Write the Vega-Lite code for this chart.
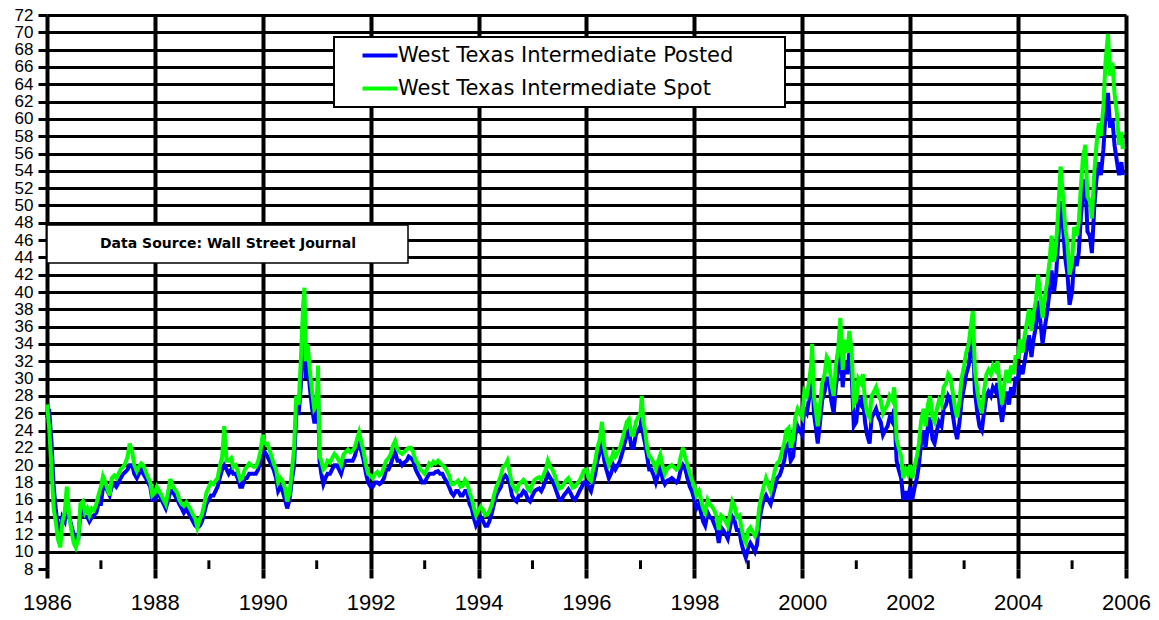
{
"$schema": "https://vega.github.io/schema/vega-lite/v6.json",
"width": 1079, "height": 554,
"autosize": "none",
"padding": {"left": 47, "top": 15, "right": 33, "bottom": 51},
"background": "white",
"config": {"view": {"stroke": null}, "font": "Liberation Sans"},
"datasets": {
"minor": [{"yr":"1987-01-01"},{"yr":"1989-01-01"},{"yr":"1991-01-01"},{"yr":"1993-01-01"},{"yr":"1995-01-01"},{"yr":"1997-01-01"},{"yr":"1999-01-01"},{"yr":"2001-01-01"},{"yr":"2003-01-01"},{"yr":"2005-01-01"}],
"prices": [
{"d":"1986-01-01","Posted":25.5,"Spot":27.0},{"d":"1986-01-15","Posted":26.5,"Spot":24.5},{"d":"1986-02-01","Posted":22.5,"Spot":19.5},{"d":"1986-02-15","Posted":17.5,"Spot":15.0},
{"d":"1986-03-01","Posted":15.0,"Spot":13.5},{"d":"1986-03-15","Posted":13.0,"Spot":11.5},{"d":"1986-04-01","Posted":12.5,"Spot":10.5},{"d":"1986-04-15","Posted":14.0,"Spot":13.5},
{"d":"1986-05-01","Posted":13.5,"Spot":14.5},{"d":"1986-05-15","Posted":15.5,"Spot":17.5},{"d":"1986-06-01","Posted":14.0,"Spot":14.0},{"d":"1986-06-15","Posted":13.0,"Spot":12.5},
{"d":"1986-07-01","Posted":12.0,"Spot":11.0},{"d":"1986-07-15","Posted":11.5,"Spot":10.5},{"d":"1986-08-01","Posted":11.5,"Spot":11.5},{"d":"1986-08-15","Posted":14.5,"Spot":15.5},
{"d":"1986-09-01","Posted":15.0,"Spot":15.8},{"d":"1986-09-15","Posted":14.0,"Spot":14.5},{"d":"1986-10-01","Posted":14.0,"Spot":15.0},{"d":"1986-10-15","Posted":13.5,"Spot":14.2},
{"d":"1986-11-01","Posted":14.0,"Spot":15.0},{"d":"1986-11-15","Posted":14.2,"Spot":14.8},{"d":"1986-12-01","Posted":14.5,"Spot":15.5},{"d":"1986-12-15","Posted":15.5,"Spot":16.5},
{"d":"1987-01-01","Posted":15.5,"Spot":17.5},{"d":"1987-01-15","Posted":17.5,"Spot":18.7},{"d":"1987-02-01","Posted":17.5,"Spot":18.0},{"d":"1987-02-15","Posted":17.0,"Spot":17.2},
{"d":"1987-03-01","Posted":16.5,"Spot":16.5},{"d":"1987-03-15","Posted":17.5,"Spot":18.5},{"d":"1987-04-01","Posted":17.8,"Spot":18.8},{"d":"1987-04-15","Posted":17.5,"Spot":18.5},
{"d":"1987-05-01","Posted":18.0,"Spot":19.0},{"d":"1987-05-15","Posted":18.5,"Spot":19.5},{"d":"1987-06-01","Posted":19.0,"Spot":19.8},{"d":"1987-06-15","Posted":19.2,"Spot":20.2},
{"d":"1987-07-01","Posted":19.5,"Spot":21.0},{"d":"1987-07-15","Posted":20.0,"Spot":22.5},{"d":"1987-08-01","Posted":20.0,"Spot":21.5},{"d":"1987-08-15","Posted":19.0,"Spot":20.0},
{"d":"1987-09-01","Posted":18.5,"Spot":19.3},{"d":"1987-09-15","Posted":19.0,"Spot":19.8},{"d":"1987-10-01","Posted":19.5,"Spot":20.2},{"d":"1987-10-15","Posted":19.0,"Spot":20.0},
{"d":"1987-11-01","Posted":18.5,"Spot":19.2},{"d":"1987-11-15","Posted":18.0,"Spot":18.6},{"d":"1987-12-01","Posted":17.5,"Spot":18.0},{"d":"1987-12-15","Posted":16.0,"Spot":16.5},
{"d":"1988-01-01","Posted":16.0,"Spot":16.8},{"d":"1988-01-15","Posted":16.5,"Spot":17.5},{"d":"1988-02-01","Posted":16.5,"Spot":17.0},{"d":"1988-02-15","Posted":16.0,"Spot":16.5},
{"d":"1988-03-01","Posted":15.5,"Spot":16.0},{"d":"1988-03-15","Posted":15.0,"Spot":15.5},{"d":"1988-04-01","Posted":16.0,"Spot":17.0},{"d":"1988-04-15","Posted":17.0,"Spot":18.4},
{"d":"1988-05-01","Posted":17.0,"Spot":17.6},{"d":"1988-05-15","Posted":16.5,"Spot":17.2},{"d":"1988-06-01","Posted":16.0,"Spot":16.8},{"d":"1988-06-15","Posted":15.5,"Spot":16.0},
{"d":"1988-07-01","Posted":15.0,"Spot":15.5},{"d":"1988-07-15","Posted":14.5,"Spot":15.3},{"d":"1988-08-01","Posted":15.0,"Spot":15.7},{"d":"1988-08-15","Posted":14.5,"Spot":15.3},
{"d":"1988-09-01","Posted":14.0,"Spot":14.8},{"d":"1988-09-15","Posted":13.5,"Spot":14.3},{"d":"1988-10-01","Posted":13.0,"Spot":13.8},{"d":"1988-10-15","Posted":12.8,"Spot":12.8},
{"d":"1988-11-01","Posted":13.0,"Spot":13.8},{"d":"1988-11-15","Posted":13.5,"Spot":14.3},{"d":"1988-12-01","Posted":14.5,"Spot":15.5},{"d":"1988-12-15","Posted":15.5,"Spot":16.8},
{"d":"1989-01-01","Posted":16.0,"Spot":17.5},{"d":"1989-01-15","Posted":16.5,"Spot":18.0},{"d":"1989-02-01","Posted":16.5,"Spot":17.8},{"d":"1989-02-15","Posted":17.0,"Spot":18.2},
{"d":"1989-03-01","Posted":17.5,"Spot":18.5},{"d":"1989-03-15","Posted":18.5,"Spot":19.8},{"d":"1989-04-01","Posted":19.5,"Spot":21.0},{"d":"1989-04-15","Posted":20.0,"Spot":24.5},
{"d":"1989-05-01","Posted":19.5,"Spot":20.5},{"d":"1989-05-15","Posted":19.0,"Spot":20.5},{"d":"1989-06-01","Posted":19.5,"Spot":20.8},{"d":"1989-06-15","Posted":19.0,"Spot":19.8},
{"d":"1989-07-01","Posted":19.0,"Spot":20.0},{"d":"1989-07-15","Posted":18.5,"Spot":19.3},{"d":"1989-08-01","Posted":17.5,"Spot":18.3},{"d":"1989-08-15","Posted":17.5,"Spot":18.5},
{"d":"1989-09-01","Posted":18.5,"Spot":19.5},{"d":"1989-09-15","Posted":18.5,"Spot":19.8},{"d":"1989-10-01","Posted":19.0,"Spot":20.2},{"d":"1989-10-15","Posted":19.0,"Spot":20.0},
{"d":"1989-11-01","Posted":19.0,"Spot":19.8},{"d":"1989-11-15","Posted":19.0,"Spot":19.8},{"d":"1989-12-01","Posted":19.5,"Spot":20.5},{"d":"1989-12-15","Posted":20.5,"Spot":21.5},
{"d":"1990-01-01","Posted":21.5,"Spot":23.5},{"d":"1990-01-15","Posted":21.5,"Spot":22.5},{"d":"1990-02-01","Posted":21.0,"Spot":22.5},{"d":"1990-02-15","Posted":20.5,"Spot":21.8},
{"d":"1990-03-01","Posted":20.0,"Spot":21.0},{"d":"1990-03-15","Posted":19.5,"Spot":20.2},{"d":"1990-04-01","Posted":18.5,"Spot":19.5},{"d":"1990-04-15","Posted":17.0,"Spot":18.0},
{"d":"1990-05-01","Posted":17.5,"Spot":18.5},{"d":"1990-05-15","Posted":17.0,"Spot":18.2},{"d":"1990-06-01","Posted":16.0,"Spot":17.3},{"d":"1990-06-15","Posted":15.0,"Spot":15.8},
{"d":"1990-07-01","Posted":16.0,"Spot":16.8},{"d":"1990-07-15","Posted":18.0,"Spot":19.0},{"d":"1990-08-01","Posted":20.0,"Spot":22.0},{"d":"1990-08-15","Posted":26.0,"Spot":28.0},
{"d":"1990-09-01","Posted":26.0,"Spot":27.0},{"d":"1990-09-15","Posted":29.0,"Spot":32.0},{"d":"1990-10-01","Posted":35.0,"Spot":38.5},{"d":"1990-10-10","Posted":36.5,"Spot":40.5},
{"d":"1990-10-20","Posted":30.0,"Spot":32.0},{"d":"1990-11-01","Posted":32.0,"Spot":34.0},{"d":"1990-11-15","Posted":29.0,"Spot":31.0},{"d":"1990-12-01","Posted":26.5,"Spot":28.5},
{"d":"1990-12-15","Posted":25.0,"Spot":26.5},
{"d":"1991-01-01","Posted":25.0,"Spot":27.0},{"d":"1991-01-10","Posted":28.5,"Spot":31.5},{"d":"1991-01-20","Posted":20.5,"Spot":21.0},{"d":"1991-02-01","Posted":19.0,"Spot":20.5},
{"d":"1991-02-15","Posted":17.8,"Spot":19.5},{"d":"1991-03-01","Posted":18.5,"Spot":19.8},{"d":"1991-03-15","Posted":19.0,"Spot":20.5},{"d":"1991-04-01","Posted":19.0,"Spot":20.3},
{"d":"1991-04-15","Posted":19.5,"Spot":20.8},{"d":"1991-05-01","Posted":20.0,"Spot":21.3},{"d":"1991-05-15","Posted":20.0,"Spot":21.0},{"d":"1991-06-01","Posted":19.5,"Spot":20.5},
{"d":"1991-06-15","Posted":19.0,"Spot":20.0},{"d":"1991-07-01","Posted":20.0,"Spot":21.2},{"d":"1991-07-15","Posted":20.5,"Spot":21.5},{"d":"1991-08-01","Posted":20.5,"Spot":21.8},
{"d":"1991-08-15","Posted":20.5,"Spot":21.5},{"d":"1991-09-01","Posted":20.5,"Spot":21.7},{"d":"1991-09-15","Posted":21.0,"Spot":22.0},{"d":"1991-10-01","Posted":22.0,"Spot":23.0},
{"d":"1991-10-15","Posted":22.5,"Spot":23.8},{"d":"1991-11-01","Posted":21.5,"Spot":22.5},{"d":"1991-11-15","Posted":20.5,"Spot":21.5},{"d":"1991-12-01","Posted":19.0,"Spot":20.0},
{"d":"1991-12-15","Posted":18.0,"Spot":19.0},
{"d":"1992-01-01","Posted":17.5,"Spot":18.8},{"d":"1992-01-15","Posted":17.5,"Spot":18.5},{"d":"1992-02-01","Posted":18.0,"Spot":19.0},{"d":"1992-02-15","Posted":18.0,"Spot":19.2},
{"d":"1992-03-01","Posted":17.8,"Spot":18.8},{"d":"1992-03-15","Posted":18.0,"Spot":19.0},{"d":"1992-04-01","Posted":18.5,"Spot":19.8},{"d":"1992-04-15","Posted":19.5,"Spot":20.5},
{"d":"1992-05-01","Posted":19.5,"Spot":20.8},{"d":"1992-05-15","Posted":20.0,"Spot":21.2},{"d":"1992-06-01","Posted":21.0,"Spot":22.3},{"d":"1992-06-15","Posted":21.5,"Spot":22.8},
{"d":"1992-07-01","Posted":20.5,"Spot":21.8},{"d":"1992-07-15","Posted":20.5,"Spot":21.5},{"d":"1992-08-01","Posted":20.0,"Spot":21.3},{"d":"1992-08-15","Posted":20.3,"Spot":21.5},
{"d":"1992-09-01","Posted":20.5,"Spot":21.8},{"d":"1992-09-15","Posted":21.0,"Spot":22.0},{"d":"1992-10-01","Posted":20.8,"Spot":22.0},{"d":"1992-10-15","Posted":20.5,"Spot":21.5},
{"d":"1992-11-01","Posted":19.5,"Spot":20.5},{"d":"1992-11-15","Posted":19.0,"Spot":20.2},{"d":"1992-12-01","Posted":18.5,"Spot":19.5},{"d":"1992-12-15","Posted":18.0,"Spot":19.3},
{"d":"1993-01-01","Posted":18.0,"Spot":19.0},{"d":"1993-01-15","Posted":18.5,"Spot":19.5},{"d":"1993-02-01","Posted":19.0,"Spot":20.2},{"d":"1993-02-15","Posted":19.0,"Spot":20.0},
{"d":"1993-03-01","Posted":19.0,"Spot":20.4},{"d":"1993-03-15","Posted":19.2,"Spot":20.2},{"d":"1993-04-01","Posted":19.3,"Spot":20.5},{"d":"1993-04-15","Posted":19.0,"Spot":20.2},
{"d":"1993-05-01","Posted":19.0,"Spot":20.0},{"d":"1993-05-15","Posted":18.5,"Spot":19.8},{"d":"1993-06-01","Posted":18.0,"Spot":19.3},{"d":"1993-06-15","Posted":17.5,"Spot":18.8},
{"d":"1993-07-01","Posted":16.8,"Spot":17.8},{"d":"1993-07-15","Posted":16.5,"Spot":17.8},{"d":"1993-08-01","Posted":17.0,"Spot":18.0},{"d":"1993-08-15","Posted":17.0,"Spot":18.2},
{"d":"1993-09-01","Posted":16.5,"Spot":17.5},{"d":"1993-09-15","Posted":16.5,"Spot":17.6},{"d":"1993-10-01","Posted":17.0,"Spot":18.3},{"d":"1993-10-15","Posted":17.0,"Spot":18.0},
{"d":"1993-11-01","Posted":15.5,"Spot":16.8},{"d":"1993-11-15","Posted":15.0,"Spot":16.2},{"d":"1993-12-01","Posted":13.8,"Spot":15.0},{"d":"1993-12-15","Posted":13.0,"Spot":14.2},
{"d":"1994-01-01","Posted":13.5,"Spot":14.8},{"d":"1994-01-15","Posted":14.0,"Spot":15.2},{"d":"1994-02-01","Posted":13.5,"Spot":14.8},{"d":"1994-02-15","Posted":13.0,"Spot":14.2},
{"d":"1994-03-01","Posted":13.0,"Spot":14.3},{"d":"1994-03-15","Posted":13.5,"Spot":14.7},{"d":"1994-04-01","Posted":14.5,"Spot":15.5},{"d":"1994-04-15","Posted":15.5,"Spot":16.5},
{"d":"1994-05-01","Posted":16.5,"Spot":17.5},{"d":"1994-05-15","Posted":17.0,"Spot":18.0},{"d":"1994-06-01","Posted":17.5,"Spot":18.8},{"d":"1994-06-15","Posted":18.5,"Spot":19.8},
{"d":"1994-07-01","Posted":18.8,"Spot":20.0},{"d":"1994-07-15","Posted":18.5,"Spot":20.5},{"d":"1994-08-01","Posted":17.8,"Spot":19.0},{"d":"1994-08-15","Posted":16.5,"Spot":17.8},
{"d":"1994-09-01","Posted":16.0,"Spot":17.3},{"d":"1994-09-15","Posted":15.8,"Spot":17.0},{"d":"1994-10-01","Posted":16.5,"Spot":17.8},{"d":"1994-10-15","Posted":16.5,"Spot":18.0},
{"d":"1994-11-01","Posted":17.0,"Spot":18.3},{"d":"1994-11-15","Posted":16.8,"Spot":18.0},{"d":"1994-12-01","Posted":16.0,"Spot":17.2},{"d":"1994-12-15","Posted":15.8,"Spot":17.0},
{"d":"1995-01-01","Posted":16.5,"Spot":17.8},{"d":"1995-01-15","Posted":17.0,"Spot":18.3},{"d":"1995-02-01","Posted":17.2,"Spot":18.5},{"d":"1995-02-15","Posted":17.3,"Spot":18.6},
{"d":"1995-03-01","Posted":17.0,"Spot":18.3},{"d":"1995-03-15","Posted":17.5,"Spot":18.8},{"d":"1995-04-01","Posted":18.3,"Spot":19.5},{"d":"1995-04-15","Posted":19.0,"Spot":20.5},
{"d":"1995-05-01","Posted":18.5,"Spot":19.8},{"d":"1995-05-15","Posted":18.2,"Spot":19.5},{"d":"1995-06-01","Posted":17.5,"Spot":18.8},{"d":"1995-06-15","Posted":16.8,"Spot":18.0},
{"d":"1995-07-01","Posted":16.0,"Spot":17.3},{"d":"1995-07-15","Posted":16.0,"Spot":17.4},{"d":"1995-08-01","Posted":16.5,"Spot":17.8},{"d":"1995-08-15","Posted":16.8,"Spot":18.2},
{"d":"1995-09-01","Posted":17.2,"Spot":18.5},{"d":"1995-09-15","Posted":16.8,"Spot":18.0},{"d":"1995-10-01","Posted":16.2,"Spot":17.4},{"d":"1995-10-15","Posted":16.0,"Spot":17.5},
{"d":"1995-11-01","Posted":16.5,"Spot":17.9},{"d":"1995-11-15","Posted":17.0,"Spot":18.2},{"d":"1995-12-01","Posted":17.5,"Spot":18.8},{"d":"1995-12-15","Posted":18.0,"Spot":19.4},
{"d":"1996-01-01","Posted":18.0,"Spot":19.5},{"d":"1996-01-15","Posted":17.5,"Spot":18.5},{"d":"1996-02-01","Posted":17.0,"Spot":18.2},{"d":"1996-02-15","Posted":18.0,"Spot":19.5},
{"d":"1996-03-01","Posted":19.0,"Spot":20.5},{"d":"1996-03-15","Posted":20.5,"Spot":22.0},{"d":"1996-04-01","Posted":21.5,"Spot":23.0},{"d":"1996-04-15","Posted":23.0,"Spot":25.0},
{"d":"1996-05-01","Posted":20.5,"Spot":22.0},{"d":"1996-05-15","Posted":19.5,"Spot":21.0},{"d":"1996-06-01","Posted":18.5,"Spot":20.0},{"d":"1996-06-15","Posted":19.0,"Spot":20.5},
{"d":"1996-07-01","Posted":20.0,"Spot":21.5},{"d":"1996-07-15","Posted":19.5,"Spot":21.0},{"d":"1996-08-01","Posted":20.0,"Spot":21.5},{"d":"1996-08-15","Posted":20.5,"Spot":22.0},
{"d":"1996-09-01","Posted":21.5,"Spot":23.0},{"d":"1996-09-15","Posted":22.5,"Spot":24.0},{"d":"1996-10-01","Posted":23.5,"Spot":25.0},{"d":"1996-10-15","Posted":24.0,"Spot":25.3},
{"d":"1996-11-01","Posted":22.0,"Spot":23.5},{"d":"1996-11-15","Posted":22.0,"Spot":23.5},{"d":"1996-12-01","Posted":23.5,"Spot":25.0},{"d":"1996-12-15","Posted":24.0,"Spot":25.5},
{"d":"1997-01-01","Posted":24.5,"Spot":26.0},{"d":"1997-01-10","Posted":25.5,"Spot":28.0},{"d":"1997-01-20","Posted":23.5,"Spot":25.0},{"d":"1997-02-01","Posted":22.5,"Spot":24.0},
{"d":"1997-02-15","Posted":21.0,"Spot":22.0},{"d":"1997-03-01","Posted":19.5,"Spot":21.0},{"d":"1997-03-15","Posted":19.5,"Spot":20.8},{"d":"1997-04-01","Posted":18.8,"Spot":20.2},
{"d":"1997-04-15","Posted":18.0,"Spot":19.5},{"d":"1997-05-01","Posted":19.0,"Spot":20.5},{"d":"1997-05-15","Posted":19.8,"Spot":21.2},{"d":"1997-06-01","Posted":18.3,"Spot":19.8},
{"d":"1997-06-15","Posted":17.8,"Spot":19.0},{"d":"1997-07-01","Posted":18.2,"Spot":19.6},{"d":"1997-07-15","Posted":18.3,"Spot":19.8},{"d":"1997-08-01","Posted":18.5,"Spot":20.0},
{"d":"1997-08-15","Posted":18.3,"Spot":19.8},{"d":"1997-09-01","Posted":18.0,"Spot":19.5},{"d":"1997-09-15","Posted":18.3,"Spot":19.7},{"d":"1997-10-01","Posted":19.5,"Spot":21.0},
{"d":"1997-10-15","Posted":20.0,"Spot":22.0},{"d":"1997-11-01","Posted":19.5,"Spot":20.8},{"d":"1997-11-15","Posted":18.5,"Spot":20.0},{"d":"1997-12-01","Posted":17.5,"Spot":19.0},
{"d":"1997-12-15","Posted":17.0,"Spot":18.3},
{"d":"1998-01-01","Posted":16.0,"Spot":17.5},{"d":"1998-01-15","Posted":15.0,"Spot":16.5},{"d":"1998-02-01","Posted":15.5,"Spot":17.0},{"d":"1998-02-15","Posted":14.5,"Spot":16.0},
{"d":"1998-03-01","Posted":13.5,"Spot":15.0},{"d":"1998-03-15","Posted":13.0,"Spot":14.5},{"d":"1998-04-01","Posted":14.5,"Spot":16.0},{"d":"1998-04-15","Posted":14.0,"Spot":15.5},
{"d":"1998-05-01","Posted":13.8,"Spot":15.2},{"d":"1998-05-15","Posted":13.2,"Spot":14.8},{"d":"1998-06-01","Posted":12.5,"Spot":14.0},{"d":"1998-06-15","Posted":11.0,"Spot":12.5},
{"d":"1998-07-01","Posted":12.8,"Spot":14.2},{"d":"1998-07-15","Posted":12.5,"Spot":14.0},{"d":"1998-08-01","Posted":12.0,"Spot":13.5},{"d":"1998-08-15","Posted":11.5,"Spot":13.0},
{"d":"1998-09-01","Posted":13.0,"Spot":14.5},{"d":"1998-09-15","Posted":14.0,"Spot":15.8},{"d":"1998-10-01","Posted":13.5,"Spot":15.2},{"d":"1998-10-15","Posted":12.5,"Spot":14.0},
{"d":"1998-11-01","Posted":12.5,"Spot":14.2},{"d":"1998-11-15","Posted":11.0,"Spot":12.8},{"d":"1998-12-01","Posted":10.0,"Spot":11.5},{"d":"1998-12-15","Posted":9.3,"Spot":11.0},
{"d":"1999-01-01","Posted":10.5,"Spot":12.5},{"d":"1999-01-15","Posted":11.0,"Spot":12.8},{"d":"1999-02-01","Posted":10.5,"Spot":12.2},{"d":"1999-02-15","Posted":10.0,"Spot":11.8},
{"d":"1999-03-01","Posted":10.8,"Spot":12.5},{"d":"1999-03-15","Posted":13.5,"Spot":15.0},{"d":"1999-04-01","Posted":15.0,"Spot":16.5},{"d":"1999-04-15","Posted":16.0,"Spot":17.5},
{"d":"1999-05-01","Posted":16.5,"Spot":18.5},{"d":"1999-05-15","Posted":16.0,"Spot":17.8},{"d":"1999-06-01","Posted":15.5,"Spot":17.0},{"d":"1999-06-15","Posted":16.5,"Spot":18.2},
{"d":"1999-07-01","Posted":17.5,"Spot":19.5},{"d":"1999-07-15","Posted":18.5,"Spot":20.2},{"d":"1999-08-01","Posted":18.8,"Spot":20.5},{"d":"1999-08-15","Posted":19.5,"Spot":21.5},
{"d":"1999-09-01","Posted":20.5,"Spot":22.5},{"d":"1999-09-15","Posted":22.0,"Spot":24.0},{"d":"1999-10-01","Posted":22.5,"Spot":24.3},{"d":"1999-10-15","Posted":20.5,"Spot":22.0},
{"d":"1999-11-01","Posted":21.0,"Spot":23.0},{"d":"1999-11-15","Posted":23.5,"Spot":25.5},{"d":"1999-12-01","Posted":24.5,"Spot":26.5},{"d":"1999-12-15","Posted":24.0,"Spot":26.0},
{"d":"2000-01-01","Posted":23.5,"Spot":25.5},{"d":"2000-01-15","Posted":26.5,"Spot":28.5},{"d":"2000-02-01","Posted":26.0,"Spot":28.0},{"d":"2000-02-15","Posted":27.5,"Spot":29.5},
{"d":"2000-03-01","Posted":29.5,"Spot":31.5},{"d":"2000-03-08","Posted":31.5,"Spot":34.0},{"d":"2000-03-20","Posted":26.0,"Spot":28.0},{"d":"2000-04-01","Posted":24.5,"Spot":26.5},
{"d":"2000-04-15","Posted":22.5,"Spot":24.5},{"d":"2000-05-01","Posted":25.0,"Spot":27.0},{"d":"2000-05-15","Posted":27.5,"Spot":29.5},{"d":"2000-06-01","Posted":28.5,"Spot":30.5},
{"d":"2000-06-15","Posted":30.0,"Spot":32.5},{"d":"2000-07-01","Posted":30.0,"Spot":32.0},{"d":"2000-07-15","Posted":27.5,"Spot":29.5},{"d":"2000-08-01","Posted":26.0,"Spot":28.0},
{"d":"2000-08-15","Posted":29.0,"Spot":31.5},{"d":"2000-09-01","Posted":31.0,"Spot":33.5},{"d":"2000-09-15","Posted":34.0,"Spot":37.0},{"d":"2000-10-01","Posted":29.0,"Spot":31.0},
{"d":"2000-10-15","Posted":32.0,"Spot":34.5},{"d":"2000-11-01","Posted":30.5,"Spot":33.0},{"d":"2000-11-15","Posted":33.0,"Spot":35.5},{"d":"2000-12-01","Posted":30.5,"Spot":33.0},
{"d":"2000-12-15","Posted":24.5,"Spot":27.0},
{"d":"2001-01-01","Posted":25.0,"Spot":27.5},{"d":"2001-01-15","Posted":27.5,"Spot":30.0},{"d":"2001-02-01","Posted":27.0,"Spot":29.5},{"d":"2001-02-15","Posted":28.0,"Spot":30.5},
{"d":"2001-03-01","Posted":25.0,"Spot":27.5},{"d":"2001-03-15","Posted":23.5,"Spot":26.0},{"d":"2001-04-01","Posted":22.5,"Spot":25.5},{"d":"2001-04-15","Posted":25.5,"Spot":28.0},
{"d":"2001-05-01","Posted":26.0,"Spot":28.5},{"d":"2001-05-15","Posted":26.5,"Spot":29.0},{"d":"2001-06-01","Posted":25.5,"Spot":28.0},{"d":"2001-06-15","Posted":25.0,"Spot":27.5},
{"d":"2001-07-01","Posted":23.5,"Spot":26.0},{"d":"2001-07-15","Posted":24.0,"Spot":26.5},{"d":"2001-08-01","Posted":24.5,"Spot":27.0},{"d":"2001-08-15","Posted":25.5,"Spot":28.0},
{"d":"2001-09-01","Posted":25.0,"Spot":27.5},{"d":"2001-09-15","Posted":26.5,"Spot":29.0},{"d":"2001-10-01","Posted":20.5,"Spot":23.0},{"d":"2001-10-15","Posted":19.5,"Spot":22.0},
{"d":"2001-11-01","Posted":18.5,"Spot":21.0},{"d":"2001-11-15","Posted":16.0,"Spot":18.5},{"d":"2001-12-01","Posted":17.0,"Spot":19.5},{"d":"2001-12-15","Posted":16.0,"Spot":19.0},
{"d":"2002-01-01","Posted":17.5,"Spot":20.0},{"d":"2002-01-15","Posted":16.0,"Spot":18.5},{"d":"2002-02-01","Posted":17.5,"Spot":20.0},{"d":"2002-02-15","Posted":18.5,"Spot":21.0},
{"d":"2002-03-01","Posted":20.0,"Spot":22.5},{"d":"2002-03-15","Posted":22.5,"Spot":25.0},{"d":"2002-04-01","Posted":24.0,"Spot":26.5},{"d":"2002-04-15","Posted":22.0,"Spot":24.5},
{"d":"2002-05-01","Posted":24.5,"Spot":27.0},{"d":"2002-05-15","Posted":25.5,"Spot":28.0},{"d":"2002-06-01","Posted":23.0,"Spot":25.5},{"d":"2002-06-15","Posted":22.5,"Spot":25.0},
{"d":"2002-07-01","Posted":24.0,"Spot":26.5},{"d":"2002-07-15","Posted":25.0,"Spot":27.5},{"d":"2002-08-01","Posted":24.5,"Spot":27.0},{"d":"2002-08-15","Posted":26.5,"Spot":29.0},
{"d":"2002-09-01","Posted":27.0,"Spot":29.5},{"d":"2002-09-15","Posted":28.0,"Spot":30.5},{"d":"2002-10-01","Posted":27.5,"Spot":30.0},{"d":"2002-10-15","Posted":26.0,"Spot":28.5},
{"d":"2002-11-01","Posted":24.0,"Spot":26.5},{"d":"2002-11-15","Posted":23.0,"Spot":25.5},{"d":"2002-12-01","Posted":25.0,"Spot":27.5},{"d":"2002-12-15","Posted":27.5,"Spot":30.0},
{"d":"2003-01-01","Posted":29.0,"Spot":31.5},{"d":"2003-01-15","Posted":30.5,"Spot":33.0},{"d":"2003-02-01","Posted":31.5,"Spot":34.0},{"d":"2003-02-15","Posted":33.5,"Spot":36.0},
{"d":"2003-03-01","Posted":35.0,"Spot":37.8},{"d":"2003-03-15","Posted":28.5,"Spot":31.0},{"d":"2003-04-01","Posted":26.0,"Spot":28.5},{"d":"2003-04-15","Posted":24.5,"Spot":27.0},
{"d":"2003-05-01","Posted":24.0,"Spot":26.0},{"d":"2003-05-15","Posted":26.0,"Spot":28.5},{"d":"2003-06-01","Posted":28.0,"Spot":30.5},{"d":"2003-06-15","Posted":28.5,"Spot":31.0},
{"d":"2003-07-01","Posted":28.0,"Spot":30.5},{"d":"2003-07-15","Posted":29.0,"Spot":31.5},{"d":"2003-08-01","Posted":28.5,"Spot":31.0},{"d":"2003-08-15","Posted":29.5,"Spot":32.0},
{"d":"2003-09-01","Posted":26.5,"Spot":29.0},{"d":"2003-09-15","Posted":25.0,"Spot":27.0},{"d":"2003-10-01","Posted":27.0,"Spot":29.5},{"d":"2003-10-15","Posted":28.5,"Spot":31.0},
{"d":"2003-11-01","Posted":27.0,"Spot":29.5},{"d":"2003-11-15","Posted":29.0,"Spot":31.5},{"d":"2003-12-01","Posted":28.0,"Spot":30.5},{"d":"2003-12-15","Posted":30.0,"Spot":32.5},
{"d":"2004-01-01","Posted":30.0,"Spot":32.5},{"d":"2004-01-15","Posted":31.5,"Spot":34.5},{"d":"2004-02-01","Posted":30.5,"Spot":33.0},{"d":"2004-02-15","Posted":32.0,"Spot":35.0},
{"d":"2004-03-01","Posted":33.5,"Spot":36.5},{"d":"2004-03-15","Posted":35.0,"Spot":38.0},{"d":"2004-04-01","Posted":32.5,"Spot":35.5},{"d":"2004-04-15","Posted":34.5,"Spot":37.5},
{"d":"2004-05-01","Posted":36.0,"Spot":39.0},{"d":"2004-05-15","Posted":39.0,"Spot":42.0},{"d":"2004-06-01","Posted":36.5,"Spot":39.5},{"d":"2004-06-15","Posted":34.0,"Spot":37.0},
{"d":"2004-07-01","Posted":36.0,"Spot":39.5},{"d":"2004-07-15","Posted":37.5,"Spot":41.0},{"d":"2004-08-01","Posted":40.0,"Spot":43.5},{"d":"2004-08-15","Posted":42.5,"Spot":46.5},
{"d":"2004-09-01","Posted":40.0,"Spot":43.5},{"d":"2004-09-15","Posted":42.0,"Spot":45.5},{"d":"2004-10-01","Posted":46.5,"Spot":50.0},{"d":"2004-10-15","Posted":50.5,"Spot":54.5},
{"d":"2004-11-01","Posted":47.5,"Spot":51.0},{"d":"2004-11-15","Posted":44.0,"Spot":47.5},{"d":"2004-12-01","Posted":42.0,"Spot":45.5},{"d":"2004-12-15","Posted":38.5,"Spot":42.0},
{"d":"2005-01-01","Posted":40.0,"Spot":43.5},{"d":"2005-01-15","Posted":44.0,"Spot":47.5},{"d":"2005-02-01","Posted":43.0,"Spot":46.5},{"d":"2005-02-15","Posted":44.5,"Spot":48.0},
{"d":"2005-03-01","Posted":48.5,"Spot":52.0},{"d":"2005-03-15","Posted":51.5,"Spot":55.5},{"d":"2005-04-01","Posted":53.0,"Spot":57.0},{"d":"2005-04-15","Posted":47.0,"Spot":51.0},
{"d":"2005-05-01","Posted":46.5,"Spot":50.5},{"d":"2005-05-15","Posted":44.5,"Spot":48.5},{"d":"2005-06-01","Posted":50.0,"Spot":54.0},{"d":"2005-06-15","Posted":53.0,"Spot":57.0},
{"d":"2005-07-01","Posted":55.0,"Spot":59.5},{"d":"2005-07-15","Posted":53.5,"Spot":58.0},{"d":"2005-08-01","Posted":56.5,"Spot":61.5},{"d":"2005-08-15","Posted":60.5,"Spot":66.5},
{"d":"2005-09-01","Posted":63.0,"Spot":69.8},{"d":"2005-09-15","Posted":59.0,"Spot":65.0},{"d":"2005-10-01","Posted":60.0,"Spot":66.5},{"d":"2005-10-15","Posted":57.0,"Spot":63.0},
{"d":"2005-11-01","Posted":55.0,"Spot":60.5},{"d":"2005-11-15","Posted":53.5,"Spot":57.0},{"d":"2005-12-01","Posted":55.0,"Spot":58.5},{"d":"2005-12-10","Posted":53.5,"Spot":56.5}
]},
"layer": [
{
"data": {"name": "prices"},
"transform": [{"fold": ["Posted", "Spot"], "as": ["series", "price"]}],
"mark": {"type": "line", "strokeWidth": 4},
"encoding": {
"x": {"field": "d", "type": "temporal",
 "scale": {"type": "utc", "domain": [{"year": 1986, "month": 1, "date": 1, "utc": true}, {"year": 2006, "month": 1, "date": 1, "utc": true}], "nice": false},
 "axis": {"title": null, "format": "%Y", "formatType": "utc",
  "values": [{"year":1986,"month":1,"date":1,"utc":true},{"year":1988,"month":1,"date":1,"utc":true},{"year":1990,"month":1,"date":1,"utc":true},{"year":1992,"month":1,"date":1,"utc":true},{"year":1994,"month":1,"date":1,"utc":true},{"year":1996,"month":1,"date":1,"utc":true},{"year":1998,"month":1,"date":1,"utc":true},{"year":2000,"month":1,"date":1,"utc":true},{"year":2002,"month":1,"date":1,"utc":true},{"year":2004,"month":1,"date":1,"utc":true},{"year":2006,"month":1,"date":1,"utc":true}],
  "grid": true, "gridColor": "black", "gridWidth": 4, "gridOpacity": 1,
  "domain": false, "tickColor": "black", "tickWidth": 4, "tickSize": 9,
  "labelFont": "Liberation Sans", "labelFontSize": 22, "labelColor": "black", "labelPadding": 14,
  "labelFlush": false, "labelOverlap": false}},
"y": {"field": "price", "type": "quantitative",
 "scale": {"domain": [8, 72], "nice": false, "zero": false},
 "axis": {"title": null, "values": [8,10,12,14,16,18,20,22,24,26,28,30,32,34,36,38,40,42,44,46,48,50,52,54,56,58,60,62,64,66,68,70,72],
  "grid": true, "gridColor": "black", "gridWidth": 3,
  "gridOpacity": {"condition": {"test": "datum.value === 8", "value": 0}, "value": 1},
  "domain": false, "tickColor": "black", "tickWidth": 3, "tickSize": 9,
  "labelFont": "Liberation Sans", "labelFontSize": 17, "labelColor": "black", "labelPadding": 5,
  "labelFlush": false, "labelOverlap": false, "labelBound": false}},
"color": {"field": "series", "type": "nominal",
 "scale": {"domain": ["Posted", "Spot"], "range": ["#0000ff", "#00ff00"]},
 "legend": {"orient": "none", "legendX": 287, "legendY": 22, "title": null,
  "labelExpr": "'West Texas Intermediate ' + datum.label",
  "labelFont": "DejaVu Sans", "labelFontSize": 21, "labelColor": "black", "labelLimit": 0,
  "symbolType": "M1.67,0H7.5M69.3,0", "symbolSize": 144, "symbolStrokeWidth": 4, "labelOffset": 35,
  "rowPadding": 11, "padding": 8, "fillColor": "white", "strokeColor": "black",
  "encode": {"legend": {"update": {"strokeWidth": {"value": 2}}}}}},
"strokeDash": {"datum": "Data Source:  Wall Street Journal", "type": "nominal",
 "scale": {"range": [[1, 0]]},
 "legend": {"orient": "none", "legendX": 0, "legendY": 210, "title": null,
  "labelFont": "DejaVu Sans", "labelFontSize": 14, "labelFontWeight": "bold", "labelColor": "black", "labelLimit": 0,
  "symbolType": "M0,0M66,0", "symbolSize": 100, "symbolOpacity": 0, "symbolStrokeWidth": 0, "labelOffset": 27,
  "padding": 12, "fillColor": "white", "strokeColor": "black",
  "encode": {"legend": {"update": {"strokeWidth": {"value": 1.5}}}}}}
}
},
{
"data": {"name": "minor"},
"mark": {"type": "rule", "color": "black", "strokeWidth": 3},
"encoding": {
"x": {"field": "yr", "type": "temporal",
 "axis": {"title": null, "format": "%Y", "formatType": "utc",
  "values": [{"year":1986,"month":1,"date":1,"utc":true},{"year":1988,"month":1,"date":1,"utc":true},{"year":1990,"month":1,"date":1,"utc":true},{"year":1992,"month":1,"date":1,"utc":true},{"year":1994,"month":1,"date":1,"utc":true},{"year":1996,"month":1,"date":1,"utc":true},{"year":1998,"month":1,"date":1,"utc":true},{"year":2000,"month":1,"date":1,"utc":true},{"year":2002,"month":1,"date":1,"utc":true},{"year":2004,"month":1,"date":1,"utc":true},{"year":2006,"month":1,"date":1,"utc":true}],
  "grid": true, "gridColor": "black", "gridWidth": 4, "gridOpacity": 1,
  "domain": false, "tickColor": "black", "tickWidth": 4, "tickSize": 9,
  "labelFont": "Liberation Sans", "labelFontSize": 22, "labelColor": "black", "labelPadding": 14,
  "labelFlush": false, "labelOverlap": false}},
"y": {"datum": 8,
 "axis": {"title": null, "values": [8,10,12,14,16,18,20,22,24,26,28,30,32,34,36,38,40,42,44,46,48,50,52,54,56,58,60,62,64,66,68,70,72],
  "grid": true, "gridColor": "black", "gridWidth": 3,
  "gridOpacity": {"condition": {"test": "datum.value === 8", "value": 0}, "value": 1},
  "domain": false, "tickColor": "black", "tickWidth": 3, "tickSize": 9,
  "labelFont": "Liberation Sans", "labelFontSize": 17, "labelColor": "black", "labelPadding": 5,
  "labelFlush": false, "labelOverlap": false, "labelBound": false}},
"y2": {"datum": 9}}
}
]
}
